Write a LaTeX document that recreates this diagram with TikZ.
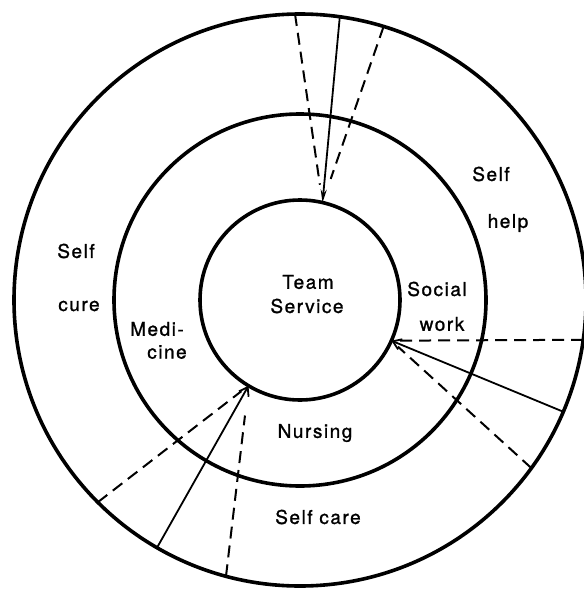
\documentclass[tikz,border=0pt]{standalone}
\usepackage{fontspec}
\setmainfont{TeX Gyre Heros}[LetterSpace=8,FakeBold=1.2]
\usetikzlibrary{arrows.meta}
\tikzset{
  ring/.style={draw,circle,line width=3.6pt,inner sep=0pt,outer sep=0pt},
  lbl/.style={font=\fontsize{19}{21}\selectfont,inner sep=0pt},
  link/.style={line width=1.8pt},
  hint/.style={line width=2pt,dash pattern=on 12pt off 7pt},
}
\begin{document}
\begin{tikzpicture}[x=1pt,y=-1pt,>={Straight Barb[length=8pt,width=11pt]}]
\useasboundingbox (0,0) rectangle (583,591);
\node[ring,minimum size=572pt] (selfring) at (300,300) {};
\node[ring,minimum size=372pt] (profring) at (300,300) {};
\node[ring,minimum size=200pt] (teamring) at (300,300) {};
\node[lbl] (team) at (308,282) {Team};
\node[lbl] (service) at (307,306) {Service};
\node[lbl] (selfa) at (491,174) {Self};
\node[lbl] (help) at (508,223) {help};
\node[lbl] (selfb) at (76,251) {Self};
\node[lbl] (cure) at (79,306) {cure};
\node[lbl] (medi) at (157,329) {Medi-};
\node[lbl] (cine) at (167,352) {cine};
\node[lbl] (social) at (437,289) {Social};
\node[lbl] (work) at (442,324) {work};
\node[lbl] (nursing) at (315,433) {Nursing};
\node[lbl] (selfcare) at (318,517) {Self care};
\draw[link,-{Stealth[length=13pt,width=6pt]}] (selfring.82.6) -- (teamring.77.5);
\draw[hint,shorten >=18pt] (selfring.91.6) -- (teamring.77.5);
\draw[hint,shorten >=25pt] (selfring.73.2) -- (teamring.77.5);
\draw[link,->] (selfring.-23.1) -- (teamring.-24.6);
\draw[hint,shorten >=2pt] (selfring.-8.6) -- (teamring.-24.6);
\draw[hint,shorten >=9pt] (selfring.-36.6) -- (teamring.-24.6);
\draw[link,->] (selfring.-120.4) -- (teamring.-121.4);
\draw[hint,shorten >=30pt] (selfring.-105.4) -- (teamring.-121.4);
\draw[hint,shorten >=9pt] (selfring.-135.9) -- (teamring.-121.4);
\end{tikzpicture}
\end{document}
